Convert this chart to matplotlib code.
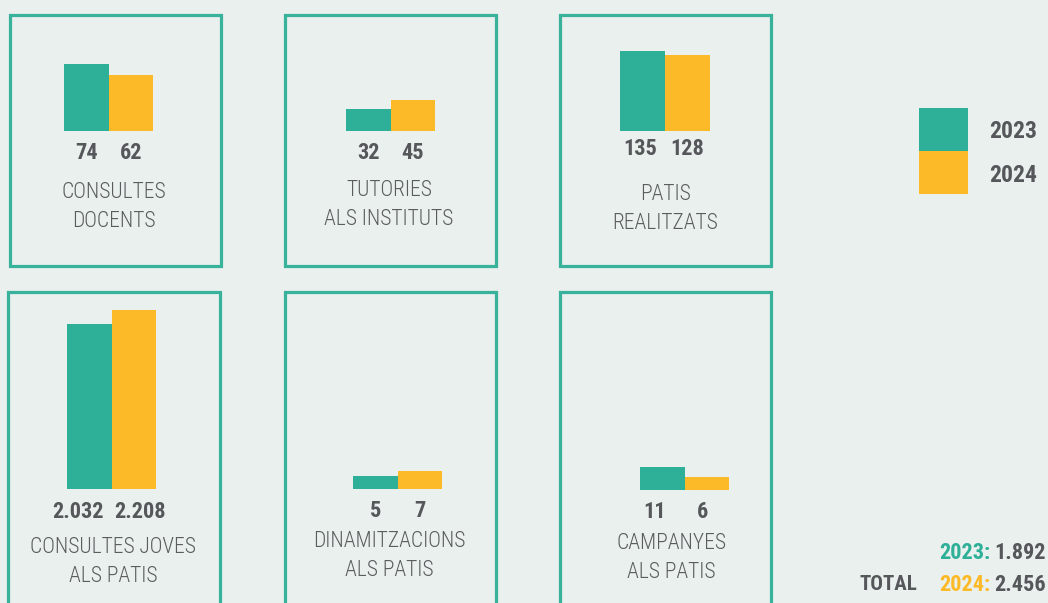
import matplotlib
matplotlib.use("Agg")
import matplotlib.pyplot as plt
from matplotlib.patches import Rectangle

# --- data ---
categories = [
    "CONSULTES\nDOCENTS",
    "TUTORIES\nALS INSTITUTS",
    "PATIS\nREALITZATS",
    "CONSULTES JOVES\nALS PATIS",
    "DINAMITZACIONS\nALS PATIS",
    "CAMPANYES\nALS PATIS",
]
values_2023 = [74, 32, 135, 2032, 5, 11]
values_2024 = [62, 45, 128, 2208, 7, 6]
years = ["2023", "2024"]
total_2023 = "1.892"
total_2024 = "2.456"

TEAL = "#2EAF98"
YELLOW = "#FDBA28"
BORDER = "#38B29B"
BG = "#EAF0EE"
GRAY = "#55575A"
LABEL_GRAY = "#5A5C5E"

FONT = ["Roboto Condensed", "Roboto", "DejaVu Sans"]

W, H = 1048, 603


def fx(x):
    return x / W


def fy(y):
    return 1 - y / H


def fmt(v):
    return f"{v:,}".replace(",", ".")


fig = plt.figure(figsize=(W / 100, H / 100), dpi=100, facecolor=BG)

# panel layout (pixels): border box, bar area left/right, baseline, max bar height,
# category label centre, value label offset below baseline, value label x shifts
panels = [
    dict(box=(9.5, 14.5, 211, 251), bx=(64, 153), base=131, hmax=67, lab=(114, 207), voff=22, dx=(0, 0)),
    dict(box=(284.5, 14.5, 211, 251), bx=(346, 435), base=131, hmax=31, lab=(389, 205), voff=22, dx=(0, 0)),
    dict(box=(559.5, 14.5, 211, 251), bx=(620, 710), base=131, hmax=80, lab=(665, 209), voff=18, dx=(-2, 0)),
    dict(box=(7.5, 291.5, 212, 330), bx=(67, 156), base=489, hmax=179, lab=(113, 562), voff=23, dx=(-11, 6)),
    dict(box=(284.5, 291.5, 211, 330), bx=(353, 442), base=489, hmax=18, lab=(389, 556), voff=22, dx=(0, 0)),
    dict(box=(559.5, 291.5, 211, 330), bx=(640, 729), base=490, hmax=23, lab=(671, 558), voff=22, dx=(-8, -4)),
]

for i, p in enumerate(panels):
    x0, y0, w, h = p["box"]
    fig.add_artist(Rectangle((fx(x0), fy(y0 + h)), w / W, h / H,
                             transform=fig.transFigure, fill=False,
                             edgecolor=BORDER, linewidth=2.3))

    left, right = p["bx"]
    ax = fig.add_axes([fx(left), fy(p["base"]), (right - left) / W, p["hmax"] / H])
    vals = [values_2023[i], values_2024[i]]
    ax.bar([0, 1], vals, width=1.0, color=[TEAL, YELLOW], linewidth=0)
    ax.set_xlim(-0.5, 1.5)
    ax.set_ylim(0, max(vals))
    ax.axis("off")
    ax.patch.set_alpha(0)

    for j, v in enumerate(vals):
        ax.annotate(fmt(v), xy=(j, 0), xytext=(p["dx"][j], -p["voff"]),
                    textcoords="offset pixels", ha="center", va="center",
                    fontsize=16, fontweight="bold", color=GRAY,
                    family=FONT, annotation_clip=False)

    lx, ly = p["lab"]
    fig.text(fx(lx), fy(ly), categories[i], ha="center", va="center",
             fontsize=15.5, fontweight="light", color=LABEL_GRAY, family=FONT,
             linespacing=1.45)

# legend
fig.add_artist(Rectangle((fx(919), fy(151)), 49 / W, 43 / H,
                         transform=fig.transFigure, facecolor=TEAL, linewidth=0))
fig.add_artist(Rectangle((fx(919), fy(194)), 49 / W, 43 / H,
                         transform=fig.transFigure, facecolor=YELLOW, linewidth=0))
fig.text(fx(989), fy(132), years[0], ha="left", va="center", fontsize=17,
         fontweight="bold", color=GRAY, family=FONT)
fig.text(fx(989), fy(175), years[1], ha="left", va="center", fontsize=17,
         fontweight="bold", color=GRAY, family=FONT)

# totals
fig.text(fx(990), fy(553), years[0] + ":", ha="right", va="center", fontsize=16,
         fontweight="bold", color=TEAL, family=FONT)
fig.text(fx(1046), fy(553), total_2023, ha="right", va="center", fontsize=16,
         fontweight="bold", color=GRAY, family=FONT)
fig.text(fx(990), fy(585), years[1] + ":", ha="right", va="center", fontsize=16,
         fontweight="bold", color=YELLOW, family=FONT)
fig.text(fx(1046), fy(585), total_2024, ha="right", va="center", fontsize=16,
         fontweight="bold", color=GRAY, family=FONT)
fig.text(fx(917), fy(585), "TOTAL", ha="right", va="center", fontsize=15,
         fontweight="bold", color=GRAY, family=FONT)

fig.savefig("out.png", dpi=100, facecolor=BG)
